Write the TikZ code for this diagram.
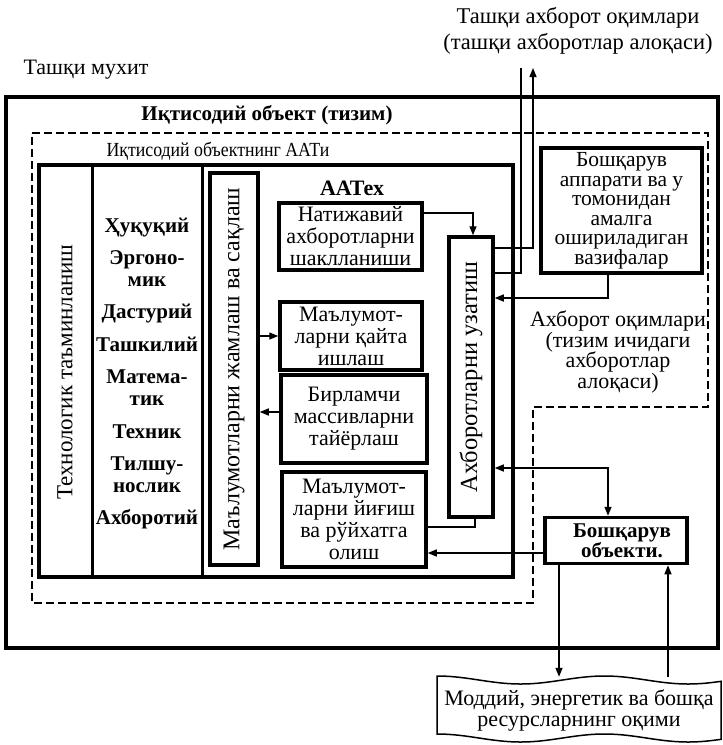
\documentclass[tikz,border=0pt]{standalone}
\usepackage{fontspec}
\setmainfont{Liberation Serif}
\usetikzlibrary{arrows.meta,calc}
\newcommand\myfs[2]{\fontsize{#1}{#2}\selectfont}
\begin{document}
\begin{tikzpicture}[x=1pt,y=-1pt,
  tbox/.style={draw,line width=3.5pt,inner sep=0pt,align=center,font=\myfs{22}{22}},
  lbl/.style={inner sep=0pt,align=center},
  conn/.style={line width=1.4pt},
  arr/.style={conn,-{Triangle[length=9pt,width=7pt]}},
  arrboth/.style={conn,{Triangle[length=9pt,width=7pt]}-{Triangle[length=9pt,width=7pt]}},
  dashline/.style={line width=1.5pt,dash pattern=on 8pt off 4pt},
]
\useasboundingbox (0,0) rectangle (723,745);
% outer box
\node[draw,line width=4.5pt,minimum width=712pt,minimum height=551pt,inner sep=0pt] (outer) at (362,372.5) {};
% dashed region
\draw[dashline] (32,133) -- (708,133) -- (708,407) -- (533,407) -- (533,603) -- (32,603) -- cycle;
% texts outside
\node[lbl,font=\myfs{22.5}{26}] (extflow) at (578,31) {Ташқи ахборот оқимлари\\(ташқи ахборотлар алоқаси)};
\node[lbl,font=\myfs{22}{26}] (env) at (86,70) {Ташқи мухит};
\node[lbl,font=\myfs{21}{24}\bfseries] (title) at (267,115) {Иқтисодий объект (тизим)};
\node[lbl,font=\myfs{20}{22}] (aattitle) at (218,151) {\scalebox{0.89}[1]{Иқтисодий объектнинг ААТи}};
% AAT box
\node[draw,line width=3.5pt,minimum width=474pt,minimum height=412pt,inner sep=0pt] (aat) at (276,371) {};
\draw[line width=3pt] (92,165) -- (92,577);
\draw[line width=3pt] (202,165) -- (202,577);
\node[lbl,rotate=90,font=\myfs{23}{24}] (tech) at (65,372) {Технологик таъминланиш};
\node[lbl,font=\myfs{21}{22}\bfseries] (list) at (147,373.5) {Ҳуқуқий\\[10.4pt]Эргоно-\\мик\\[10.4pt]Дастурий\\[10.4pt]Ташкилий\\[10.4pt]Матема-\\тик\\[10.4pt]Техник\\[10.4pt]Тилшу-\\нослик\\[10.4pt]Ахборотий};
\node[lbl,font=\myfs{22}{22}\bfseries] (aatex) at (352,188) {ААТех};
% inner boxes
\node[tbox,minimum width=48pt,minimum height=392pt,font=\myfs{24}{24}] (jam) at (234,369) {\rotatebox{90}{Маълумотларни жамлаш ва сақлаш}};
\node[tbox,minimum width=143pt,minimum height=67pt] (nat) at (350.5,236.5) {Натижавий\\ахборотларни\\шаклланиши};
\node[tbox,minimum width=142pt,minimum height=68pt] (qay) at (351,336) {Маълумот-\\ларни қайта\\ишлаш};
\node[tbox,minimum width=146pt,minimum height=88pt] (bir) at (354,419) {Бирламчи\\массивларни\\тайёрлаш};
\node[tbox,minimum width=144pt,minimum height=95pt] (yig) at (354,519.5) {Маълумот-\\ларни йиғиш\\ва рўйхатга\\олиш};
\node[tbox,minimum width=44pt,minimum height=280pt,font=\myfs{24.5}{24}] (uz) at (471,377) {\rotatebox{90}{Ахборотларни узатиш}};
\node[tbox,minimum width=161pt,minimum height=125pt,font=\myfs{21.5}{19.5}] (ba) at (621.5,210.5) {Бошқарув\\аппарати ва у\\томонидан\\амалга\\ошириладиган\\вазифалар};
\node[tbox,minimum width=142pt,minimum height=46pt,font=\myfs{21}{20}\bfseries] (bo) at (616,540.5) {\hspace*{12pt}Бошқарув\\\hspace*{12pt}объекти.};
\node[lbl,font=\myfs{22}{20.5}] (intflow) at (618,352) {Ахборот оқимлари\\(тизим ичидаги\\ахборотлар\\алоқаси)};
% resources (wavy)
\draw[line width=1.5pt] plot[domain=437:721,samples=60,smooth] (\x,{680-4*cos(2.15*(\x-437))}) -- plot[domain=721:437,samples=60,smooth] (\x,{738-4*cos(2.15*(\x-437))}) -- cycle;
\node[lbl,minimum width=284pt,minimum height=66pt,font=\myfs{22}{21}] (res) at (579,710) {Моддий, энергетик ва бошқа\\ресурсларнинг оқими};
% connectors
\coordinate (b1) at (473,213);
\draw[arr] (b1 -| nat.east) -- (b1) -- (b1 |- uz.north);
\draw[arr] (jam.east |- qay.west) -- (qay.west);
\coordinate (b3) at (0,412);
\draw[arr] (b3 -| bir.west) -- (b3 -| jam.east);
\coordinate (b4) at (475,527);
\draw[conn] (b4 -| yig.east) -- (b4) -- (b4 |- uz.south);
\coordinate (b5) at (0,553);
\draw[arr] (b5 -| bo.west) -- (b5 -| yig.east);
\coordinate (b6) at (608,468);
\draw[arrboth] (b6 -| uz.east) -- (b6) -- (b6 |- bo.north);
\coordinate (b7) at (608,298);
\draw[arr] (b7 |- ba.south) -- (b7) -- (b7 -| uz.east);
\coordinate (k1) at (533,248);
\coordinate (ext1) at (533,68);
\draw[arr] (k1 -| uz.east) -- (k1) -- (ext1);
\coordinate (k2) at (521,273);
\coordinate (ext2) at (521,68);
\draw[conn] (k2 -| uz.east) -- (k2) -- (ext2);
\coordinate (c1) at (559,0);
\coordinate (c2) at (668,0);
\draw[arr] (bo.south -| c1) -- (res.north -| c1);
\draw[arr] (res.north -| c2) -- (bo.south -| c2);
\end{tikzpicture}
\end{document}
